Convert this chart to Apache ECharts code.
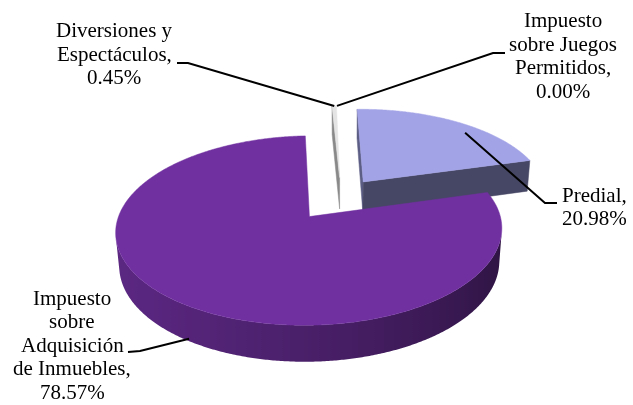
<!DOCTYPE html>
<html>
<head>
<meta charset="utf-8">
<script src="https://cdn.jsdelivr.net/npm/echarts@6/dist/echarts.min.js"></script>
</head>
<body style="margin:0">
<div id="chart" style="width:633px;height:405px"></div>
<script>
// ---- data ----
const categories = ['Predial', 'Impuesto sobre Adquisición de Inmuebles', 'Diversiones y Espectáculos', 'Impuesto sobre Juegos Permitidos'];
const values = [20.98, 78.57, 0.45, 0.00];
const labelNameLines = [
  ['Predial,'],
  ['Impuesto', 'sobre', 'Adquisición', 'de Inmuebles,'],
  ['Diversiones y', 'Espectáculos,'],
  ['Impuesto', 'sobre Juegos', 'Permitidos,']
];
const colors = ['#A2A3E6', '#7030A0', '#E4E4E4', '#C0504D'];

// ---- layout / style ----
const sideTint = [0.72, 1.0, 0.75, 1.0];
const explodeBy = [0.207, 0.283, 0.22, 0.22];
const startAngle = -1.2;           // degrees, clockwise from 12 o'clock
const view = {cx: 341, cy: 196, D: 6.2, F: 1145, tilt: 28, h: 0.2};
const labelLayout = [
  {x: 594, y: 208, knee: [545, 203], end: [557, 203], anchor: {r: 0.9, f: 0.6, z: 0}},
  {x: 72, y: 346, knee: [140, 351], end: [128, 352], anchor: {r: 1, f: 0.49, z: -0.93}},
  {x: 114, y: 55, knee: [188, 63], end: [177, 63], anchor: {r: 1, f: 0.5, z: 0}},
  {x: 563, y: 57, knee: [493, 53], end: [505, 53], anchor: {r: 1, f: 0.5, z: 0}}
];
const lineGap = 23.5;
const labelFontSize = 21;
const labelFamily = 'Liberation Serif';

const rad = Math.PI / 180;
const ca = Math.cos(view.tilt * rad), sa = Math.sin(view.tilt * rad);
const cam = [0, -view.D * ca, view.D * sa];
function proj(X, Y, Z) {
  const depth = view.D + Y * ca - Z * sa;
  const sx = X, sy = Y * sa + Z * ca;
  return [view.cx + view.F * sx / depth, view.cy - view.F * sy / depth];
}
function shade(hex, f) {
  const n = parseInt(hex.slice(1), 16);
  const r = Math.min(255, Math.round(((n >> 16) & 255) * f));
  const g = Math.min(255, Math.round(((n >> 8) & 255) * f));
  const b = Math.min(255, Math.round((n & 255) * f));
  return 'rgb(' + r + ',' + g + ',' + b + ')';
}
function visible(nx, ny, p) {
  return nx * (cam[0] - p[0]) + ny * (cam[1] - p[1]) > 0;
}
function wallFactor(nx, ny) { return 0.6 - 0.2 * nx - 0.06 * ny; }

const total = values.reduce((a, b) => a + b, 0);
function sliceGeom() {
  let acc = startAngle;
  return values.map((v, i) => {
    const a0 = acc, a1 = acc + v / total * 360;
    acc = a1;
    const m = (a0 + a1) / 2 * rad;
    const ox = explodeBy[i] * Math.sin(m), oy = explodeBy[i] * Math.cos(m);
    return {i, a0, a1, ox, oy, mid: m};
  });
}

function renderAll(params, api) {
  const geoms = sliceGeom();
  const children = [];
  const h = view.h;
  const order = geoms.slice().sort((p, q) => {
    const dp = p.oy + 0.5 * Math.cos(p.mid), dq = q.oy + 0.5 * Math.cos(q.mid);
    return dq - dp;
  });
  order.forEach(g => {
    if (values[g.i] <= 0) return;
    const col = colors[g.i];
    const tint = sideTint[g.i];
    const pt = (r, deg, z) => proj(g.ox + r * Math.sin(deg * rad), g.oy + r * Math.cos(deg * rad), z);
    const P = (r, deg) => [g.ox + r * Math.sin(deg * rad), g.oy + r * Math.cos(deg * rad)];
    const walls = [
      {deg: g.a0, nx: -Math.cos(g.a0 * rad), ny: Math.sin(g.a0 * rad)},
      {deg: g.a1, nx: Math.cos(g.a1 * rad), ny: -Math.sin(g.a1 * rad)}
    ];
    walls.forEach(w => {
      const pm = P(0.5, w.deg);
      if (!visible(w.nx, w.ny, pm)) return;
      const c = shade(col, wallFactor(w.nx, w.ny) * tint);
      children.push({
        type: 'polygon',
        shape: {points: [pt(0, w.deg, 0), pt(1, w.deg, 0), pt(1, w.deg, -h), pt(0, w.deg, -h)]},
        style: {fill: c, stroke: c, lineWidth: 0.5}
      });
    });
    const span = g.a1 - g.a0;
    const nSeg = Math.max(2, Math.ceil(span * 2));
    let run = [];
    const flush = () => {
      if (run.length < 2) { run = []; return; }
      const topPts = run.map(s => pt(1, s.deg, 0));
      const botPts = run.map(s => pt(1, s.deg, -h)).reverse();
      const xs = topPts.map(p => p[0]);
      const minX = Math.min.apply(null, xs), maxX = Math.max.apply(null, xs);
      let stops = run.map((s, k) => ({offset: maxX > minX ? (xs[k] - minX) / (maxX - minX) : 0, color: s.c}));
      stops.sort((a, b) => a.offset - b.offset);
      const fill = maxX > minX ? new echarts.graphic.LinearGradient(minX, 0, maxX, 0, stops, true) : run[0].c;
      children.push({
        type: 'polygon',
        shape: {points: topPts.concat(botPts)},
        style: {fill: fill, stroke: null}
      });
      run = [];
    };
    for (let k = 0; k <= nSeg; k++) {
      const d = g.a0 + span * k / nSeg;
      const nx = Math.sin(d * rad), ny = Math.cos(d * rad);
      const vis = visible(nx, ny, P(1, d));
      if (vis) run.push({deg: d, c: shade(col, wallFactor(nx, ny) * tint)});
      else flush();
    }
    flush();
    const top = [pt(0, g.a0, 0)];
    const n2 = Math.max(2, Math.ceil(span * 2));
    for (let k = 0; k <= n2; k++) top.push(pt(1, g.a0 + span * k / n2, 0));
    children.push({type: 'polygon', shape: {points: top}, style: {fill: col, stroke: col, lineWidth: 0.5}});
  });
  return {type: 'group', children: children};
}

// text width measurement for centring lines
const measureCtx = document.createElement('canvas').getContext('2d');
measureCtx.font = labelFontSize + 'px "' + labelFamily + '"';
function textWidth(t) { return measureCtx.measureText(t).width; }

function buildLabels() {
  const out = [];
  sliceGeom().forEach(g => {
    const L = labelLayout[g.i];
    const deg = g.a0 + (g.a1 - g.a0) * L.anchor.f;
    const a = proj(g.ox + L.anchor.r * Math.sin(deg * rad), g.oy + L.anchor.r * Math.cos(deg * rad), L.anchor.z * view.h);
    out.push({
      type: 'polyline', z: 100,
      shape: {points: [L.end, L.knee, a]},
      style: {stroke: '#000', lineWidth: 2, fill: null}
    });
    const lines = labelNameLines[g.i].concat([values[g.i].toFixed(2) + '%']);
    lines.forEach((t, k) => {
      const cy = L.y + (k - (lines.length - 1) / 2) * lineGap;
      out.push({
        type: 'text', z: 100,
        x: Math.round(L.x - textWidth(t) / 2),
        y: Math.round(cy - labelFontSize / 2),
        style: {text: t, fontFamily: labelFamily, fontSize: labelFontSize, fill: '#000'}
      });
    });
  });
  return out;
}

const chart = echarts.init(document.getElementById('chart'));
chart.setOption({
  animation: false,
  backgroundColor: '#fff',
  graphic: buildLabels(),
  series: [{
    type: 'custom',
    coordinateSystem: 'none',
    data: [categories.length],
    renderItem: renderAll
  }]
});
</script>
</body>
</html>
